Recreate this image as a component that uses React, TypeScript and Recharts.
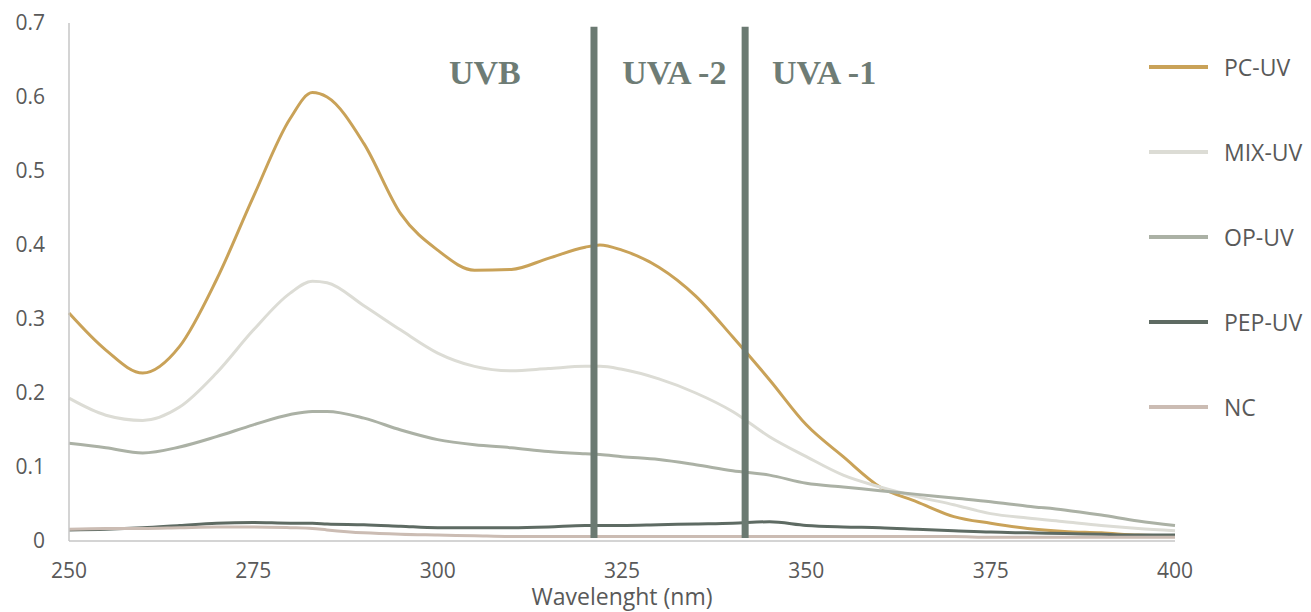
import React from "react"
import {
  LineChart,
  Line,
  XAxis,
  YAxis,
  ReferenceLine,
  ReferenceDot,
  Legend
} from "recharts"

// wavelength grid (nm)
const wavelengths = [
  250, 255, 260, 265, 270, 275, 280, 283, 285, 290, 295, 300, 305, 310, 315, 320, 322,
  325, 330, 335, 340, 345, 350, 355, 360, 365, 370, 375, 380, 385, 390, 395, 400
]

// absorbance
const pcUv = [
  0.308, 0.258, 0.227, 0.263, 0.353, 0.465, 0.571, 0.606, 0.600, 0.537, 0.442, 0.393, 0.366,
  0.367, 0.382, 0.397, 0.400, 0.393, 0.370, 0.331, 0.276, 0.218, 0.157, 0.114, 0.073, 0.053,
  0.033, 0.024, 0.017, 0.013, 0.011, 0.008, 0.007
]
const mixUv = [
  0.193, 0.170, 0.163, 0.181, 0.227, 0.285, 0.335, 0.351, 0.349, 0.318, 0.285, 0.254, 0.236,
  0.230, 0.233, 0.236, 0.236, 0.232, 0.219, 0.200, 0.175, 0.141, 0.114, 0.089, 0.073, 0.060,
  0.049, 0.037, 0.031, 0.026, 0.021, 0.017, 0.014
]
const opUv = [
  0.132, 0.126, 0.119, 0.127, 0.141, 0.157, 0.171, 0.175, 0.175, 0.166, 0.150, 0.137, 0.130,
  0.126, 0.121, 0.118, 0.117, 0.114, 0.110, 0.103, 0.095, 0.089, 0.078, 0.073, 0.068, 0.063,
  0.058, 0.053, 0.047, 0.042, 0.035, 0.027, 0.021
]
const pepUv = [
  0.015, 0.016, 0.018, 0.021, 0.024, 0.025, 0.024, 0.024, 0.023, 0.022, 0.020, 0.018, 0.018,
  0.018, 0.019, 0.021, 0.021, 0.021, 0.022, 0.023, 0.024, 0.026, 0.021, 0.019, 0.018, 0.016,
  0.014, 0.012, 0.011, 0.010, 0.009, 0.008, 0.008
]
const nc = [
  0.016, 0.017, 0.017, 0.018, 0.019, 0.019, 0.018, 0.017, 0.015, 0.011, 0.009, 0.008, 0.007,
  0.006, 0.006, 0.006, 0.006, 0.006, 0.006, 0.006, 0.006, 0.006, 0.006, 0.006, 0.006, 0.006,
  0.006, 0.005, 0.005, 0.005, 0.005, 0.005, 0.005
]

const seriesNames = ["PC-UV", "MIX-UV", "OP-UV", "PEP-UV", "NC"]
const seriesKeys = ["pc", "mix", "op", "pep", "nc"]
const seriesColors = ["#c9a258", "#dcdcd5", "#abb1a5", "#5e6b63", "#cbbcb3"]

const xTicks = [250, 275, 300, 325, 350, 375, 400]
const yTicks = [0, 0.1, 0.2, 0.3, 0.4, 0.5, 0.6, 0.7]

// UV band borders and labels
const bandBorders = [321.2, 341.7]
const bandLabels = ["UVB", "UVA -2", "UVA -1"]
const bandLabelX = [306.4, 332.1, 352.4]
const bandLabelY = 0.634

const data = wavelengths.map((w, i) => ({
  w,
  pc: pcUv[i],
  mix: mixUv[i],
  op: opUv[i],
  pep: pepUv[i],
  nc: nc[i]
}))

const font = "'Open Sans', sans-serif"
const tickStyle = { fill: "#595959", fontSize: 21, fontFamily: font }

function renderLegend() {
  return (
    <div>
      {seriesNames.map((name, i) => (
        <div key={name} style={{ height: 85, display: "flex", alignItems: "center" }}>
          <svg width={59} height={6} style={{ display: "block" }}>
            <line x1={0} y1={3} x2={59} y2={3} stroke={seriesColors[i]} strokeWidth={4} />
          </svg>
          <span style={{ marginLeft: 16, fontFamily: font, fontSize: 23, color: "#595959" }}>
            {name}
          </span>
        </div>
      ))}
    </div>
  )
}

export default function App() {
  return (
    <div style={{ position: "absolute", left: 0, top: 0, background: "#fff" }}>
      <LineChart
        width={1311}
        height={612}
        data={data}
        margin={{ top: 23, right: 136, bottom: 0, left: 9 }}
      >
        <XAxis
          dataKey="w"
          type="number"
          domain={[250, 400]}
          ticks={xTicks}
          tickLine={false}
          tickMargin={16}
          height={71}
          stroke="#c6c6c6"
          strokeWidth={1.5}
          tick={tickStyle}
          label={{
            value: "Wavelenght (nm)",
            position: "insideBottom",
            offset: 7,
            fill: "#595959",
            fontSize: 23,
            fontFamily: font
          }}
        />
        <YAxis
          type="number"
          domain={[0, 0.7]}
          ticks={yTicks}
          tickLine={false}
          tickMargin={18}
          width={60}
          stroke="#c6c6c6"
          strokeWidth={1.5}
          tick={tickStyle}
          tickFormatter={(v) => (v === 0 ? "0" : v.toFixed(1))}
        />
        <Legend
          layout="vertical"
          align="center"
          verticalAlign="middle"
          content={renderLegend}
          wrapperStyle={{ left: 1149, top: 24.5, width: 162 }}
        />
        {seriesKeys.map((k, i) => (
          <Line
            key={k}
            name={seriesNames[i]}
            dataKey={k}
            type="monotone"
            stroke={seriesColors[i]}
            strokeWidth={3}
            dot={false}
            isAnimationActive={false}
          />
        ))}
        {bandBorders.map((b) => (
          <ReferenceLine
            key={b}
            segment={[{ x: b, y: 0.004 }, { x: b, y: 0.695 }]}
            stroke="#6b7a72"
            strokeWidth={7}
          />
        ))}
        {bandLabels.map((t, i) => (
          <ReferenceDot
            key={t}
            x={bandLabelX[i]}
            y={bandLabelY}
            r={0}
            stroke="none"
            label={{
              value: t,
              position: "center",
              fill: "#6e7c75",
              fontSize: 34,
              fontWeight: "bold",
              fontFamily: "'Liberation Serif', serif"
            }}
          />
        ))}
      </LineChart>
    </div>
  )
}
